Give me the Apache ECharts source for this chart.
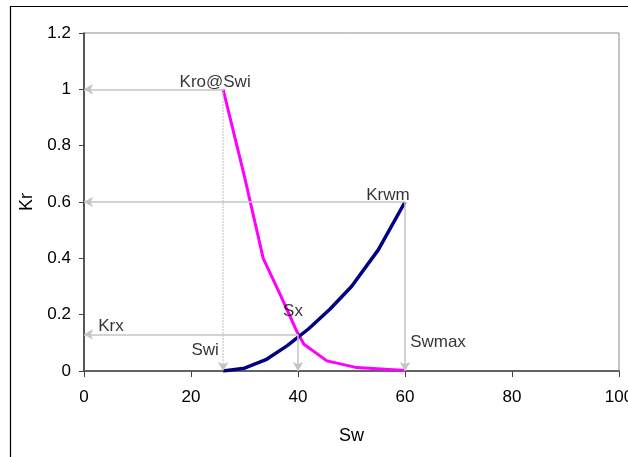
<!DOCTYPE html>
<html>
<head>
<meta charset="utf-8">
<script src="https://cdn.jsdelivr.net/npm/echarts@6/dist/echarts.min.js"></script>
<style>
  html, body { margin: 0; padding: 0; background: #fff; }
  #chart { width: 628px; height: 457px; }
</style>
</head>
<body>
<div id="chart"></div>
<script>
// Kro (oil) curve
const kroSw = [26, 30, 33.5, 36.7, 39.8, 41.1, 45.4, 51, 60];
const kroVal = [1.0, 0.69, 0.4, 0.27, 0.14, 0.095, 0.036, 0.012, 0.002];
// Krw (water) curve
const krwSw = [26, 30, 34, 38, 42, 46, 50, 55, 60];
const krwVal = [0, 0.01, 0.04, 0.09, 0.15, 0.22, 0.3, 0.43, 0.6];
// key points
const swi = 26, swmax = 60, sx = 40;
const kroAtSwi = 1.0, krwm = 0.6, krx = 0.13;
// axis ticks
const xTicks = [0, 20, 40, 60, 80, 100];
const yTicks = [0, 0.2, 0.4, 0.6, 0.8, 1, 1.2];

const FONT = 'Liberation Sans, Arial, sans-serif';
const GRAY = '#c4c4c4';

const chart = echarts.init(document.getElementById('chart'));

// gray arrow lines
const arrowLine = (from, to, dotted) => [
  { coord: from, lineStyle: { color: GRAY, width: 1.5, type: dotted ? 'dotted' : 'solid' } },
  { coord: to }
];

// text labels, anchored at the key points
const lbl = (x, y, text, offset) => ({
  value: [x, y],
  label: { show: true, formatter: text, position: 'inside', offset: offset }
});

chart.setOption({
  animation: false,
  graphic: [{
    type: 'rect',
    shape: { x: 10.5, y: 6.5, width: 700, height: 500 },
    style: { fill: 'none', stroke: '#000', lineWidth: 1.2 },
    z: -1
  }],
  grid: {
    left: 84, right: 9, top: 33, bottom: 86,
    outerBoundsMode: 'none',
    show: true, borderColor: '#8a8a8a', borderWidth: 1
  },
  xAxis: {
    type: 'value', min: xTicks[0], max: xTicks[xTicks.length - 1], interval: 20,
    name: 'Sw', nameLocation: 'middle', nameGap: 56,
    nameTextStyle: { fontFamily: FONT, fontSize: 18, color: '#000' },
    axisLine: { lineStyle: { color: '#444', width: 1.5 } },
    axisTick: { show: true, length: 6, lineStyle: { color: '#444' } },
    axisLabel: { fontFamily: FONT, fontSize: 17, color: '#000', margin: 18 },
    splitLine: { show: false }
  },
  yAxis: {
    type: 'value', min: yTicks[0], max: yTicks[yTicks.length - 1], interval: 0.2,
    name: 'Kr', nameLocation: 'middle', nameGap: 39,
    nameTextStyle: { fontFamily: FONT, fontSize: 18, color: '#000' },
    axisLine: { show: true, lineStyle: { color: '#333', width: 1.5 } },
    axisTick: { show: true, length: 5, lineStyle: { color: '#444' } },
    axisLabel: { fontFamily: FONT, fontSize: 17, color: '#000', margin: 13,
      formatter: v => String(Math.round(v * 10) / 10) },
    splitLine: { show: false }
  },
  series: [
    {
      name: 'guides', type: 'line', data: [], z: 1,
      markLine: {
        silent: true, symbol: ['none', 'arrow'], symbolSize: [8, 9],
        label: { show: false },
        data: [
          arrowLine([swi, kroAtSwi], [0, kroAtSwi]),
          arrowLine([swi, kroAtSwi], [swi, 0], true),
          arrowLine([swmax, krwm], [0, krwm]),
          arrowLine([swmax, krwm], [swmax, 0]),
          arrowLine([sx, krx], [0, krx]),
          arrowLine([sx, krx], [sx, 0])
        ]
      }
    },
    {
      name: 'Kro', type: 'line', z: 3, symbol: 'none',
      lineStyle: { color: '#ff00ff', width: 3 },
      data: kroSw.map((s, i) => [s, kroVal[i]])
    },
    {
      name: 'Krw', type: 'line', z: 3, symbol: 'none',
      lineStyle: { color: '#000080', width: 3.5 },
      data: krwSw.map((s, i) => [s, krwVal[i]])
    },
    {
      name: 'labels', type: 'scatter', z: 4, symbolSize: 0, silent: true,
      label: { fontFamily: FONT, fontSize: 17, color: '#000',
        textBorderWidth: 0, textBorderColor: 'transparent' },
      data: [
        lbl(swi, kroAtSwi, 'Kro@Swi', [-8, -7]),
        lbl(swmax, krwm, 'Krwm', [-17, -7]),
        lbl(sx, krx, 'Sx', [-5, -23]),
        lbl(0, krx, 'Krx', [27, -8]),
        lbl(swi, 0, 'Swi', [-18, -21]),
        lbl(swmax, 0, 'Swmax', [33, -29])
      ]
    }
  ]
});
</script>
</body>
</html>
